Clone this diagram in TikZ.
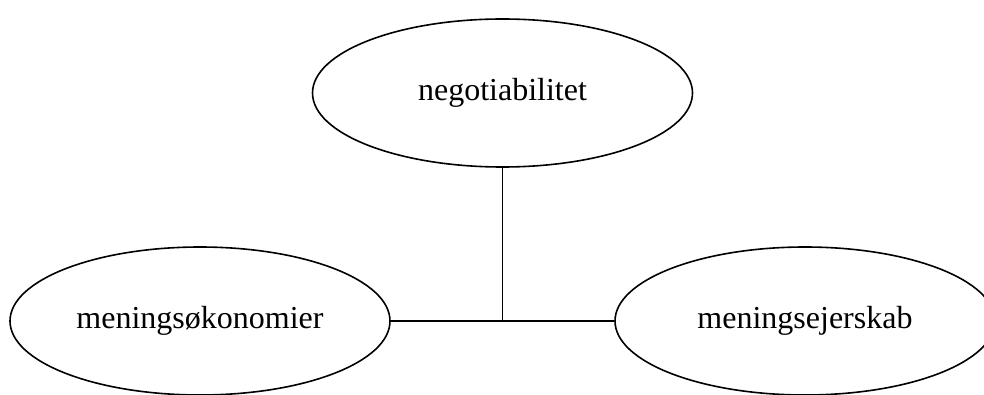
\documentclass[tikz,border=0pt]{standalone}
\usepackage{fontspec}
\setmainfont{Liberation Serif}
\usetikzlibrary{shapes}
\tikzstyle{term} = [ellipse, draw, line width=1.2pt, inner sep=0pt,
    minimum width=285pt, minimum height=111pt, font=\fontsize{24}{28}\selectfont]
\tikzstyle{line} = [draw, line width=1.2pt]

\begin{document}
\begin{tikzpicture}[x=0.75pt, y=-0.75pt]
        \useasboundingbox (0,0) rectangle (984,395);
        % Place nodes
        \node (negot) [term] at (502.5,93) {negotiabilitet};
        \node (okon) [term] at (200,321) {meningsøkonomier};
        \node (ejer) [term] at (805,321) {meningsejerskab};

        % Join
        \coordinate (mid) at (negot.south |- okon.east);
        \path [line] (okon.east) -- (ejer.west);
        \path [line] (negot.south) -- (mid);
\end{tikzpicture}
\end{document}
